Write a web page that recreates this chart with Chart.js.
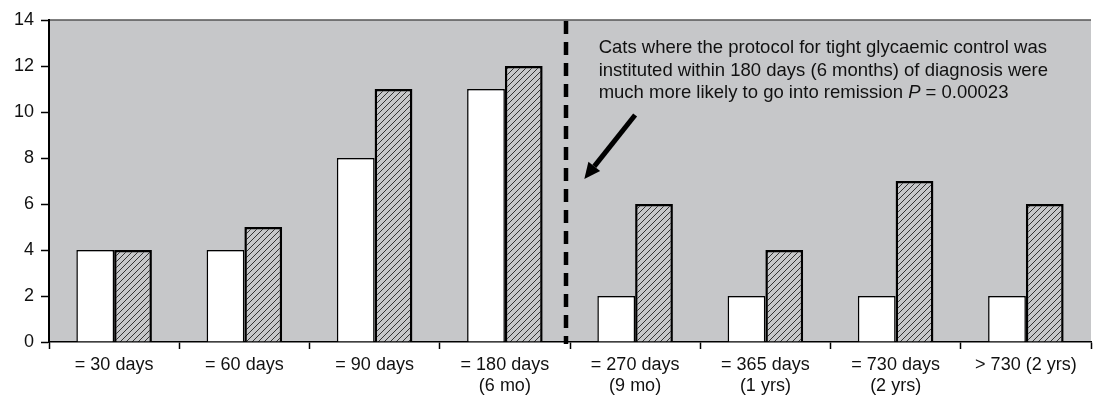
<!DOCTYPE html>
<html>
<head>
<meta charset="utf-8">
<script src="https://cdn.jsdelivr.net/npm/chart.js@4.4.1/dist/chart.umd.min.js"></script>
<style>
  html, body { margin: 0; padding: 0; background: #fff; }
  #wrap { width: 1093px; height: 397px; position: relative; }
</style>
</head>
<body>
<div id="wrap"><canvas id="chart"></canvas></div>
<script>
const categories = [
  '= 30 days', '= 60 days', '= 90 days', ['= 180 days', '(6 mo)'],
  ['= 270 days', '(9 mo)'], ['= 365 days', '(1 yrs)'], ['= 730 days', '(2 yrs)'], '> 730 (2 yrs)'
];
const whiteValues = [4, 4, 8, 11, 2, 2, 2, 2];
const hatchedValues = [4, 5, 11, 12, 6, 4, 7, 6];
const yTicks = [0, 2, 4, 6, 8, 10, 12, 14];
const noteLines = [
  'Cats where the protocol for tight glycaemic control was',
  'instituted within 180 days (6 months) of diagnosis were',
  'much more likely to go into remission '
];

const FONT = '"Liberation Sans", Arial, sans-serif';
const PLOT_BG = '#c6c7c9';

// diagonal hatch fill for the second series
function makeHatch() {
  const c = document.createElement('canvas');
  c.width = 6; c.height = 6;
  const g = c.getContext('2d');
  g.fillStyle = PLOT_BG;
  g.fillRect(0, 0, 6, 6);
  g.strokeStyle = '#333';
  g.lineWidth = 1;
  g.beginPath();
  g.moveTo(0, 6); g.lineTo(6, 0);
  g.moveTo(-1, 1); g.lineTo(1, -1);
  g.moveTo(5, 7); g.lineTo(7, 5);
  g.stroke();
  return g.createPattern(c, 'repeat');
}

const plotBackground = {
  id: 'plotBackground',
  beforeDraw(chart) {
    const { ctx, chartArea: a } = chart;
    ctx.save();
    ctx.fillStyle = PLOT_BG;
    ctx.fillRect(a.left, a.top, a.right - a.left, a.bottom - a.top);
    ctx.strokeStyle = '#555';
    ctx.lineWidth = 1.5;
    ctx.beginPath();
    ctx.moveTo(a.left, a.top);
    ctx.lineTo(a.right, a.top);
    ctx.stroke();
    ctx.restore();
  }
};

const annotations = {
  id: 'annotations',
  afterDatasetsDraw(chart) {
    const { ctx, chartArea: a, scales: { x, y } } = chart;
    ctx.save();
    // dashed divider between 180 and 270 days
    const xd = (x.getPixelForTick(3) + x.getPixelForTick(4)) / 2 - 4;
    ctx.strokeStyle = '#000';
    ctx.lineWidth = 4.5;
    ctx.setLineDash([13, 8]);
    ctx.beginPath();
    ctx.moveTo(xd, a.top + 1);
    ctx.lineTo(xd, a.bottom + 2);
    ctx.stroke();
    ctx.setLineDash([]);

    // note text
    const step = x.getPixelForValue(4) - x.getPixelForValue(3);
    ctx.fillStyle = '#111';
    ctx.font = '18.5px ' + FONT;
    ctx.textBaseline = 'middle';
    const tx = x.getPixelForValue(3) + step * 0.72;
    const lineYs = [12.78, 11.78, 10.83];
    noteLines.forEach((t, i) => ctx.fillText(t, tx, y.getPixelForValue(lineYs[i])));
    let px = tx + ctx.measureText(noteLines[2]).width;
    ctx.font = 'italic 18.5px ' + FONT;
    ctx.fillText('P', px, y.getPixelForValue(lineYs[2]));
    px += ctx.measureText('P').width;
    ctx.font = '18.5px ' + FONT;
    ctx.fillText(' = 0.00023', px, y.getPixelForValue(lineYs[2]));

    // arrow
    const x0 = x.getPixelForValue(4), y0 = y.getPixelForValue(9.87);
    const x1 = x.getPixelForValue(3) + step * 0.61, y1 = y.getPixelForValue(7.09);
    const ang = Math.atan2(y1 - y0, x1 - x0);
    const hl = 16, hw = 7.5;
    const bx = x1 - hl * Math.cos(ang), by = y1 - hl * Math.sin(ang);
    ctx.strokeStyle = '#000';
    ctx.lineWidth = 5;
    ctx.beginPath();
    ctx.moveTo(x0, y0);
    ctx.lineTo(bx, by);
    ctx.stroke();
    ctx.fillStyle = '#000';
    ctx.beginPath();
    ctx.moveTo(x1, y1);
    ctx.lineTo(bx + hw * Math.sin(ang), by - hw * Math.cos(ang));
    ctx.lineTo(bx - hw * Math.sin(ang), by + hw * Math.cos(ang));
    ctx.closePath();
    ctx.fill();
    ctx.restore();
  }
};

const ctx = document.getElementById('chart').getContext('2d');
new Chart(ctx, {
  type: 'bar',
  data: {
    labels: categories,
    datasets: [
      {
        label: 'white',
        data: whiteValues,
        backgroundColor: '#ffffff',
        borderColor: '#000',
        borderWidth: 1.5,
        categoryPercentage: 0.58,
        barPercentage: 1.0
      },
      {
        label: 'hatched',
        data: hatchedValues,
        backgroundColor: makeHatch(),
        borderColor: '#000',
        borderWidth: 2.5,
        categoryPercentage: 0.58,
        barPercentage: 1.0
      }
    ]
  },
  options: {
    responsive: true,
    maintainAspectRatio: false,
    animation: false,
    layout: { padding: { top: 20, right: 2, left: 0, bottom: 0 } },
    plugins: {
      legend: { display: false },
      tooltip: { enabled: false }
    },
    scales: {
      x: {
        grid: {
          display: true,
          drawOnChartArea: false,
          drawTicks: true,
          tickLength: 7,
          tickWidth: 1.5,
          tickColor: '#000',
          offset: true
        },
        border: { color: '#000', width: 1.5 },
        ticks: {
          color: '#111',
          font: { family: FONT, size: 18 },
          padding: 5,
          maxRotation: 0,
          autoSkip: false
        },
        afterFit(scale) { scale.height = 55; }
      },
      y: {
        min: 0,
        max: 14,
        afterBuildTicks(scale) { scale.ticks = yTicks.map(v => ({ value: v })); },
        grid: {
          display: true,
          drawOnChartArea: false,
          drawTicks: true,
          tickLength: 8,
          tickWidth: 1.5,
          tickColor: '#000'
        },
        border: { color: '#000', width: 2 },
        ticks: {
          color: '#111',
          font: { family: FONT, size: 18 },
          padding: 7
        },
        afterFit(scale) { scale.width = 49; }
      }
    }
  },
  plugins: [plotBackground, annotations]
});
</script>
</body>
</html>
